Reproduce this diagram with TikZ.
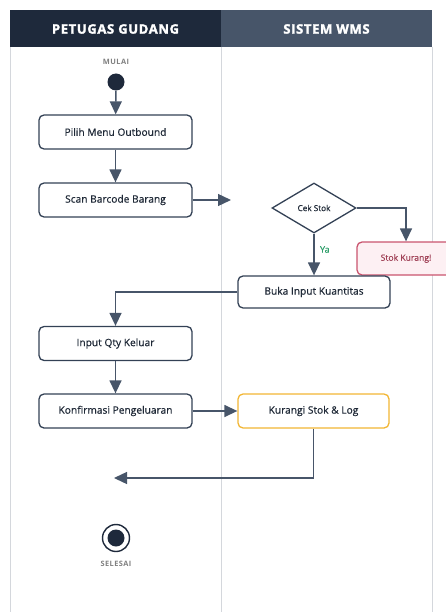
\documentclass[tikz,border=0pt]{standalone}
\usepackage{fontspec}
\setmainfont{Open Sans}
\newfontfamily\medfont[FakeBold=0.6]{Open Sans}
\newfontfamily\heavyfont[FakeBold=2,LetterSpace=5]{Open Sans Bold}
\newfontfamily\smallfont[LetterSpace=6]{Open Sans Bold}
\usetikzlibrary{arrows.meta,shapes.geometric}
\definecolor{hdrA}{HTML}{1E293B}
\definecolor{hdrB}{HTML}{475569}
\definecolor{lnc}{HTML}{475569}
\definecolor{boxc}{HTML}{334155}
\definecolor{lane}{HTML}{D4D7DC}
\definecolor{redb}{HTML}{C9546E}
\definecolor{redf}{HTML}{FDF0F3}
\definecolor{orb}{HTML}{F2B634}
\definecolor{grn}{HTML}{2E9E6A}
\definecolor{txt}{HTML}{1F2937}
\begin{document}
\begin{tikzpicture}[x=1pt,y=-1pt,
  act/.style={draw=boxc,line width=1.3pt,rounded corners=5pt,fill=white,minimum width=153pt,minimum height=34pt,font=\medfont\fontsize{10.2}{11}\selectfont,text=txt,inner sep=0pt},
  flow/.style={draw=lnc,line width=1.4pt,-{Triangle[length=13pt,width=12pt]}},
  hdr/.style={font=\heavyfont\fontsize{13}{14}\selectfont,text=white},
  small/.style={font=\smallfont\fontsize{7.4}{8}\selectfont,text=gray}]
\useasboundingbox (0,0) rectangle (446,612);
\begin{scope}
\clip (0,0) rectangle (446,612);
% lanes
\fill[hdrA] (10,10) rectangle (221,47);
\fill[hdrB] (221,10) rectangle (432,47);
\draw[lane,line width=1pt] (10,47) -- (10,612) (221,47) -- (221,612) (432,47) -- (432,612);
\node[hdr] (h1) at (115.5,29) {PETUGAS GUDANG};
\node[hdr] (h2) at (326.5,29) {SISTEM WMS};
% start
\node[small] (mulai) at (116,62) {MULAI};
\node[circle,fill=hdrA,minimum size=17pt,inner sep=0pt] (start) at (116,82) {};
\node[act] (pilih) at (115.5,132) {Pilih Menu Outbound};
\node[act] (scan) at (115.5,200) {Scan Barcode Barang};
\coordinate (scanEnd) at (231,200);
\node[diamond,draw=boxc,line width=1.3pt,fill=white,minimum width=84pt,minimum height=50pt,inner sep=0pt,font=\medfont\fontsize{8.2}{9}\selectfont,text=txt] (cek) at (314,208) {Cek Stok};
\node[draw=redb,line width=1.3pt,rounded corners=5pt,fill=redf,minimum width=98pt,minimum height=33pt,font=\medfont\fontsize{8.6}{9}\selectfont,text=redb!80!black,inner sep=0pt] (kurang) at (406,258.5) {Stok Kurang!};
\node[act,minimum width=152pt,minimum height=32pt] (buka) at (314,292) {Buka Input Kuantitas};
\node[act] (input) at (115.5,343.5) {Input Qty Keluar};
\node[act] (konf) at (115.5,411) {Konfirmasi Pengeluaran};
\node[act,draw=orb,minimum width=151pt] (kur) at (313.5,411) {Kurangi Stok \& Log};
\coordinate (retEnd) at (114,478);
\node[circle,draw=hdrA,line width=1.4pt,fill=white,minimum size=27pt,inner sep=0pt] (endo) at (116,538) {};
\node[circle,fill=hdrA,minimum size=17pt,inner sep=0pt] (endi) at (116,538) {};
\node[small] (selesai) at (116,564) {SELESAI};
% flows
\draw[flow] (start) -- (pilih);
\draw[flow] (pilih) -- (scan);
\draw[flow] (scan) -- (scanEnd);
\draw[flow] (cek.east) -| (kurang.north);
\draw[flow] (cek.south) -- node[right,pos=0.38,font=\medfont\fontsize{9}{9}\selectfont,text=grn,xshift=2pt] {Ya} (buka.north);
\draw[flow] (buka.west) -| (input.north);
\draw[flow] (input) -- (konf);
\draw[flow] (konf) -- (kur);
\draw[flow] (kur.south) |- (retEnd);
\end{scope}
\end{tikzpicture}
\end{document}
